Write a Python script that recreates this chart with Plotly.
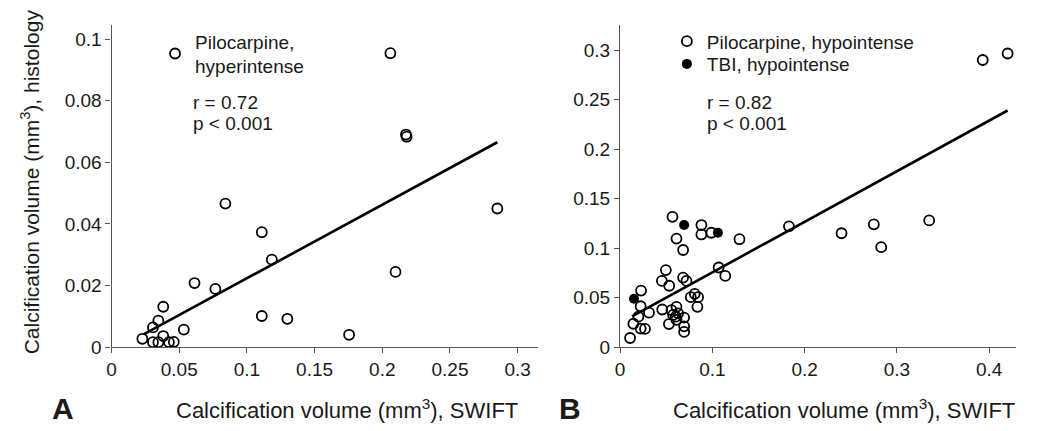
import plotly.graph_objects as go

W, H = 1050, 431

# ---- Panel A data (Pilocarpine, hyperintense) ----
a_x = [0.206, 0.2175, 0.2180, 0.0841, 0.285, 0.111, 0.1184, 0.2098, 0.0613, 0.0767,
       0.0382, 0.111, 0.1299, 0.0346, 0.0306, 0.0534, 0.1755, 0.0228, 0.0382,
       0.0306, 0.0346, 0.0424, 0.0460]
a_y = [0.0954, 0.0690, 0.0683, 0.0466, 0.0450, 0.0373, 0.0284, 0.0244, 0.0208, 0.0189,
       0.0131, 0.0101, 0.0092, 0.0086, 0.0064, 0.0057, 0.0040, 0.0027, 0.0036,
       0.0016, 0.0016, 0.0016, 0.0017]
a_fit_x = [0.024, 0.285]
a_fit_y = [0.0042, 0.0665]

# ---- Panel B data ----
b_pilo_x = [0.0568, 0.0881, 0.0881, 0.0989, 0.0611, 0.1294, 0.0683, 0.1068, 0.114,
            0.0496, 0.0453, 0.0532, 0.0683, 0.0719, 0.0766, 0.0809, 0.0845, 0.0838,
            0.0227, 0.0223, 0.0198, 0.0313, 0.0144, 0.0223, 0.027, 0.0108, 0.0457,
            0.0529, 0.0557, 0.0611, 0.0575, 0.0604, 0.0629, 0.0611, 0.0694, 0.0694,
            0.0694, 0.183, 0.240, 0.275, 0.283, 0.335, 0.393, 0.420]
b_pilo_y = [0.1316, 0.1233, 0.1138, 0.1155, 0.1096, 0.1090, 0.0981, 0.0804, 0.0719,
            0.0778, 0.0669, 0.0620, 0.0702, 0.0669, 0.0505, 0.0538, 0.0505, 0.0407,
            0.0571, 0.0413, 0.0308, 0.0348, 0.0236, 0.0187, 0.0184, 0.0092, 0.0380,
            0.0233, 0.0374, 0.0407, 0.0325, 0.0308, 0.0341, 0.0276, 0.0298, 0.0210,
            0.0154, 0.122, 0.115, 0.124, 0.101, 0.128, 0.290, 0.2966]
b_tbi_x = [0.0694, 0.106, 0.0151]
b_tbi_y = [0.1233, 0.1155, 0.0489]
b_fit_x = [0.013, 0.42]
b_fit_y = [0.031, 0.239]

FONT = "Liberation Sans, Arial, sans-serif"
AX = "#555555"
TXT = "#1a1a1a"

fig = go.Figure()

mk_open = dict(symbol="circle-open", size=10, color="black", line=dict(width=1.8, color="black"))

fig.add_trace(go.Scatter(x=a_x, y=a_y, mode="markers", marker=mk_open,
                         name="Pilocarpine,<br>hyperintense", legend="legend",
                         xaxis="x", yaxis="y"))
fig.add_trace(go.Scatter(x=a_fit_x, y=a_fit_y, mode="lines", line=dict(color="black", width=2.6),
                         showlegend=False, xaxis="x", yaxis="y"))

fig.add_trace(go.Scatter(x=b_pilo_x, y=b_pilo_y, mode="markers", marker=mk_open,
                         name="Pilocarpine, hypointense", legend="legend2",
                         xaxis="x2", yaxis="y2"))
fig.add_trace(go.Scatter(x=b_tbi_x, y=b_tbi_y, mode="markers",
                         marker=dict(symbol="circle", size=10, color="black"),
                         name="TBI, hypointense", legend="legend3",
                         xaxis="x2", yaxis="y2"))
fig.add_trace(go.Scatter(x=b_fit_x, y=b_fit_y, mode="lines", line=dict(color="black", width=2.6),
                         showlegend=False, xaxis="x2", yaxis="y2"))

ydom = [1 - 348 / H, 1 - 17 / H]
axcommon = dict(showgrid=False, zeroline=False, showline=True, linecolor=AX, linewidth=1.2,
                ticks="outside", ticklen=5, tickcolor=AX, tickwidth=1.2,
                tickfont=dict(family=FONT, size=19, color=TXT))

def leg(xpx, toppx):
    return dict(x=xpx / W, y=1 - toppx / H, xanchor="left", yanchor="top",
                bgcolor="rgba(0,0,0,0)", font=dict(family=FONT, size=19, color=TXT),
                itemsizing="trace")

fig.update_layout(
    width=W, height=H,
    margin=dict(l=0, r=0, t=0, b=0),
    paper_bgcolor="white", plot_bgcolor="white",
    font=dict(family=FONT, color=TXT),
    xaxis=dict(domain=[99 / W, 528 / W], range=[0, 0.3154], tick0=0, dtick=0.05,
               anchor="y", **axcommon),
    yaxis=dict(domain=ydom, range=[0, 0.1047], tick0=0, dtick=0.02, anchor="x", **axcommon),
    xaxis2=dict(domain=[610 / W, 1008 / W], range=[0, 0.4293], tick0=0, dtick=0.1,
                anchor="y2", **axcommon),
    yaxis2=dict(domain=ydom, range=[0, 0.3258], tick0=0, dtick=0.05, anchor="x2", **axcommon),
    legend=leg(142.7, 14.7),
    legend2=leg(657, 14.7),
    legend3=leg(657, 38),
)

ann = []
def txt(x, y, s, size=19, **kw):
    ann.append(dict(x=x / W, y=1 - y / H, xref="paper", yref="paper", text=s, showarrow=False,
                    xanchor=kw.get("xanchor", "left"), yanchor="middle",
                    textangle=kw.get("angle", 0),
                    font=dict(family=FONT, size=size, color=TXT,
                              weight=kw.get("weight", "normal"))))

txt(179, 96.5, "r = 0.72")
txt(179, 118.5, "p < 0.001")
txt(695, 96.5, "r = 0.82")
txt(695, 118.5, "p < 0.001")
txt(336, 411, "Calcification volume (mm<sup>3</sup>), SWIFT", size=22, xanchor="center")
txt(835, 411, "Calcification volume (mm<sup>3</sup>), SWIFT", size=22, xanchor="center")
txt(18, 178, "Calcification volume (mm<sup>3</sup>), histology", size=21, xanchor="center", angle=-90)
txt(50, 411, "A", size=30, xanchor="center", weight="bold")
txt(560, 411, "B", size=30, xanchor="center", weight="bold")
fig.update_layout(annotations=ann)

fig.write_html("out.html")
